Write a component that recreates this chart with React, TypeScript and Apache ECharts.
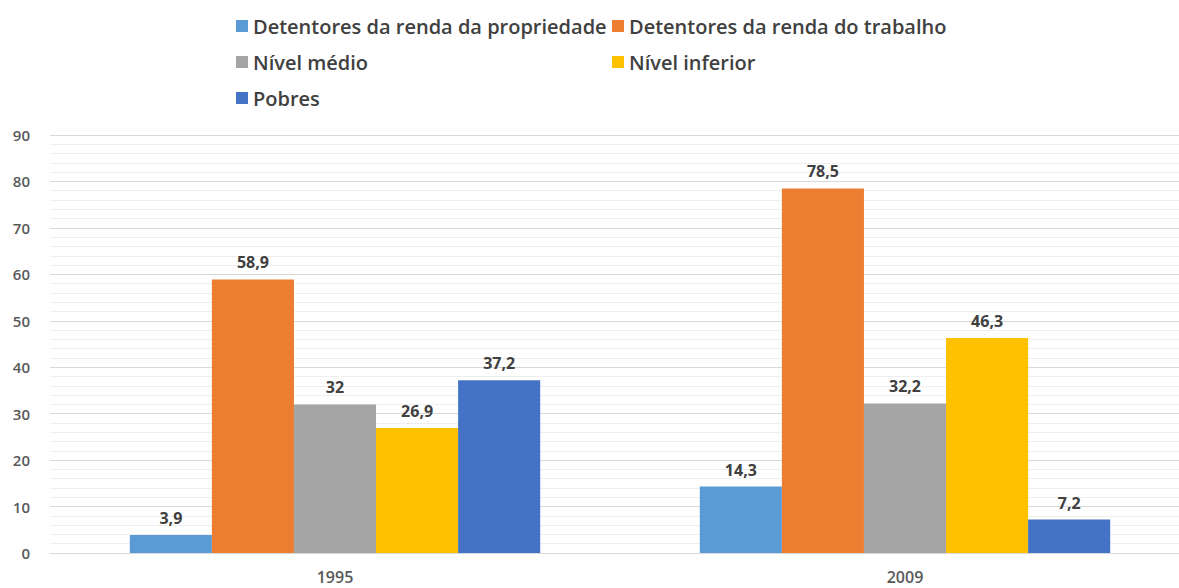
import React, { useEffect, useRef } from "react";
import * as echarts from "echarts";

const categories = ["1995", "2009"];
const seriesNames = [
  "Detentores da renda da propriedade",
  "Detentores da renda do trabalho",
  "Nível médio",
  "Nível inferior",
  "Pobres",
];
const propriedade = [3.9, 14.3];
const trabalho = [58.9, 78.5];
const medio = [32, 32.2];
const inferior = [26.9, 46.3];
const pobres = [37.2, 7.2];
const colors = ["#5B9BD5", "#ED7D31", "#A5A5A5", "#FFC000", "#4472C4"];

const FONT = "Open Sans";

export default function App() {
  const ref = useRef<HTMLDivElement>(null);
  useEffect(() => {
    if (!ref.current) return;
    const chart = echarts.init(ref.current, undefined, { renderer: "svg" });
    const values = [propriedade, trabalho, medio, inferior, pobres];
    const legendText = { color: "#404040", fontSize: 20, fontWeight: 600, fontFamily: FONT };
    chart.setOption({
      animation: false,
      backgroundColor: "#ffffff",
      textStyle: { fontFamily: FONT },
      legend: [
        {
          left: 236,
          top: 16,
          padding: 0,
          orient: "vertical",
          itemGap: 16,
          itemWidth: 12,
          itemHeight: 12,
          icon: "rect",
          data: [seriesNames[0], seriesNames[2], seriesNames[4]],
          textStyle: legendText,
        },
        {
          left: 612,
          top: 16,
          padding: 0,
          orient: "vertical",
          itemGap: 16,
          itemWidth: 12,
          itemHeight: 12,
          icon: "rect",
          data: [seriesNames[1], seriesNames[3]],
          textStyle: legendText,
        },
      ],
      grid: { left: 50, right: 0, top: 135, bottom: 35, containLabel: false },
      xAxis: {
        type: "category",
        data: categories,
        axisLine: { show: true, lineStyle: { color: "#d9d9d9", width: 1 } },
        axisTick: { show: false },
        axisLabel: { color: "#595959", fontSize: 16, fontWeight: 600, fontFamily: FONT, margin: 16 },
      },
      yAxis: {
        type: "value",
        min: 0,
        max: 90,
        interval: 10,
        axisLine: { show: false },
        axisTick: { show: false },
        axisLabel: { color: "#595959", fontSize: 15, fontWeight: 600, fontFamily: FONT, margin: 20 },
        splitLine: { show: true, lineStyle: { color: "#d9d9d9", width: 1 } },
        minorTick: { show: false, splitNumber: 5 },
        minorSplitLine: { show: true, lineStyle: { color: "#efefef", width: 1 } },
      },
      series: seriesNames.map((name, i) => ({
        name,
        type: "bar",
        data: values[i],
        itemStyle: { color: colors[i] },
        barGap: "0%",
        barCategoryGap: "28%",
        label: {
          show: true,
          position: "top",
          distance: 9,
          color: "#404040",
          fontSize: 16,
          fontWeight: 700,
          fontFamily: FONT,
          formatter: (p: any) => String(p.value).replace(".", ","),
        },
      })),
    });
    return () => chart.dispose();
  }, []);
  return (
    <div
      style={{ position: "fixed", left: 0, top: 0, width: 1179, height: 588, overflow: "hidden" }}
    >
      <div ref={ref} style={{ width: 1190, height: 588 }} />
    </div>
  );
}
